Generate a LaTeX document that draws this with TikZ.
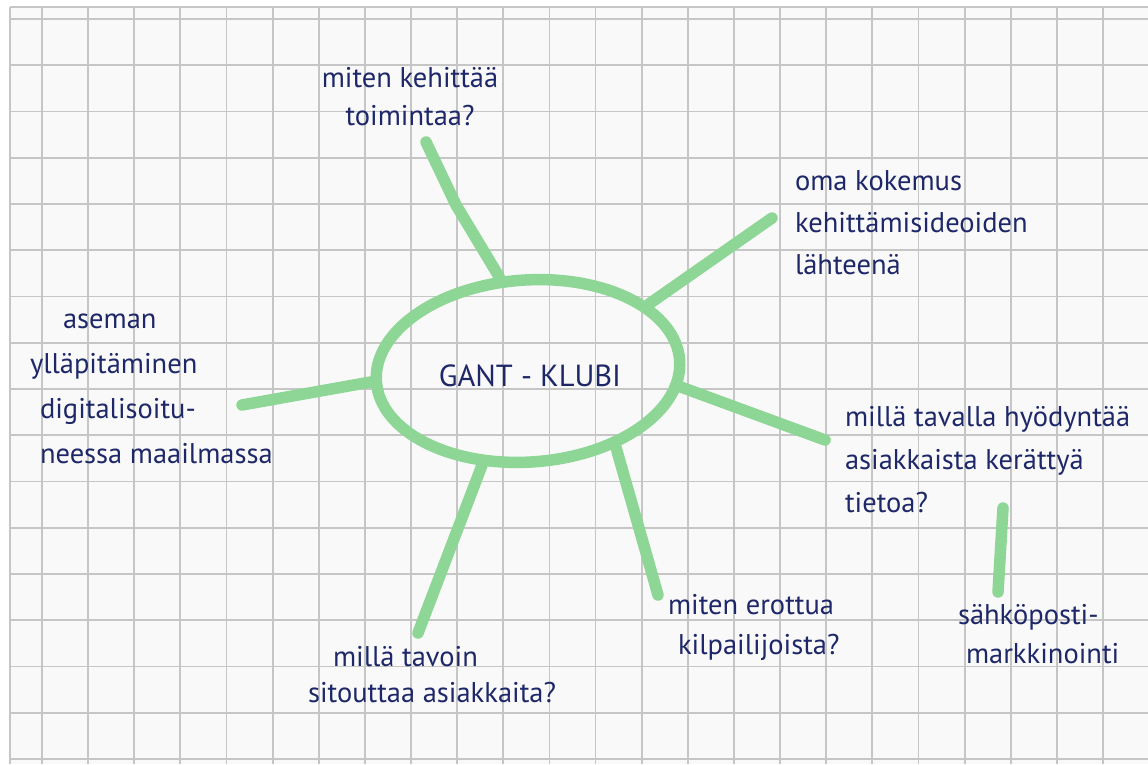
\documentclass[tikz,border=0pt]{standalone}
\usepackage{fontspec}
\setmainfont{PT Sans}
\usetikzlibrary{shapes.geometric}
\definecolor{ink}{RGB}{30,40,105}
\definecolor{marker}{RGB}{142,214,150}
\definecolor{gridc}{RGB}{198,198,198}
\definecolor{paper}{RGB}{249,249,249}
\begin{document}
\begin{tikzpicture}[x=1pt,y=-1pt,
  gridline/.style={draw=gridc, line width=1.8pt},
  spoke/.style={draw=marker, line width=11.5pt, line cap=round, line join=round},
  label/.style={text=ink, font=\fontsize{28.5}{43}\selectfont, inner sep=0pt, outer sep=0pt, align=left},
  ]
\useasboundingbox (0,0) rectangle (1148,764);
\fill[white] (0,0) rectangle (1148,764);
\fill[paper] (10,7) rectangle (1148,764);
\foreach \i in {0,...,23} \draw[gridline] ({42+46.13*\i},7) -- ({42+46.13*\i},764);
\foreach \j in {0,...,16} \draw[gridline] (10,{19+46.25*\j}) -- (1148,{19+46.25*\j});
\draw[gridline] (10,7) -- (1148,7);
\draw[gridline] (10,7) -- (10,764);

% hub
\node[ellipse, draw=marker, line width=11.5pt, minimum width=304pt, minimum height=182pt,
      inner sep=0pt, rotate=4] (hub) at (528,371) {};
\node[label, font=\fontsize{30.5}{32}\selectfont] (gant) at (530,376) {GANT - KLUBI};

% free ends of spokes
\coordinate (k1) at (456,205);
\coordinate (e1) at (426,142);
\coordinate (e2) at (772,218);
\coordinate (e3) at (242,405);
\coordinate (e4) at (825,440);
\coordinate (e5) at (658,595);
\coordinate (e6) at (418,633);
\coordinate (s1) at (1003,508);
\coordinate (s2) at (998,592);

\draw[spoke] (hub.103) -- (k1) -- (e1);
\draw[spoke] (hub.25) -- (e2);
\draw[spoke] (hub.180) -- (e3);
\draw[spoke] (hub.350) -- (e4);
\draw[spoke] (hub.315) -- (e5);
\draw[spoke] (hub.240) -- (e6);
\draw[spoke] (s1) -- (s2);

% texts
\node[label, align=center, font=\fontsize{28.5}{38}\selectfont] (t1) at (410,97) {miten kehittää\\toimintaa?};
\node[label, anchor=north west, font=\fontsize{28.5}{42}\selectfont] (t2) at (795,171) {oma kokemus\\kehittämisideoiden\\lähteenä};
\node[label, anchor=north west, font=\fontsize{28.5}{45}\selectfont] (t3) at (30,314) {\hspace*{33pt}aseman\\ylläpitäminen\\\hspace*{10pt}digitalisoitu-\\\hspace*{10pt}neessa maailmassa};
\node[label, anchor=north west, font=\fontsize{28.5}{43}\selectfont] (t4) at (845,406) {millä tavalla hyödyntää\\asiakkaista kerättyä\\tietoa?};
\node[label, anchor=north west, font=\fontsize{28.5}{39}\selectfont] (t5) at (958,604) {sähköposti-\\\hspace*{8pt}markkinointi};
\node[label, anchor=north west, font=\fontsize{28.5}{40}\selectfont] (t6) at (668,594) {miten erottua\\\hspace*{10pt}kilpailijoista?};
\node[label, anchor=north west, font=\fontsize{28.5}{36}\selectfont] (t7) at (308,646) {\hspace*{25pt}millä tavoin\\sitouttaa asiakkaita?};
\end{tikzpicture}
\end{document}
